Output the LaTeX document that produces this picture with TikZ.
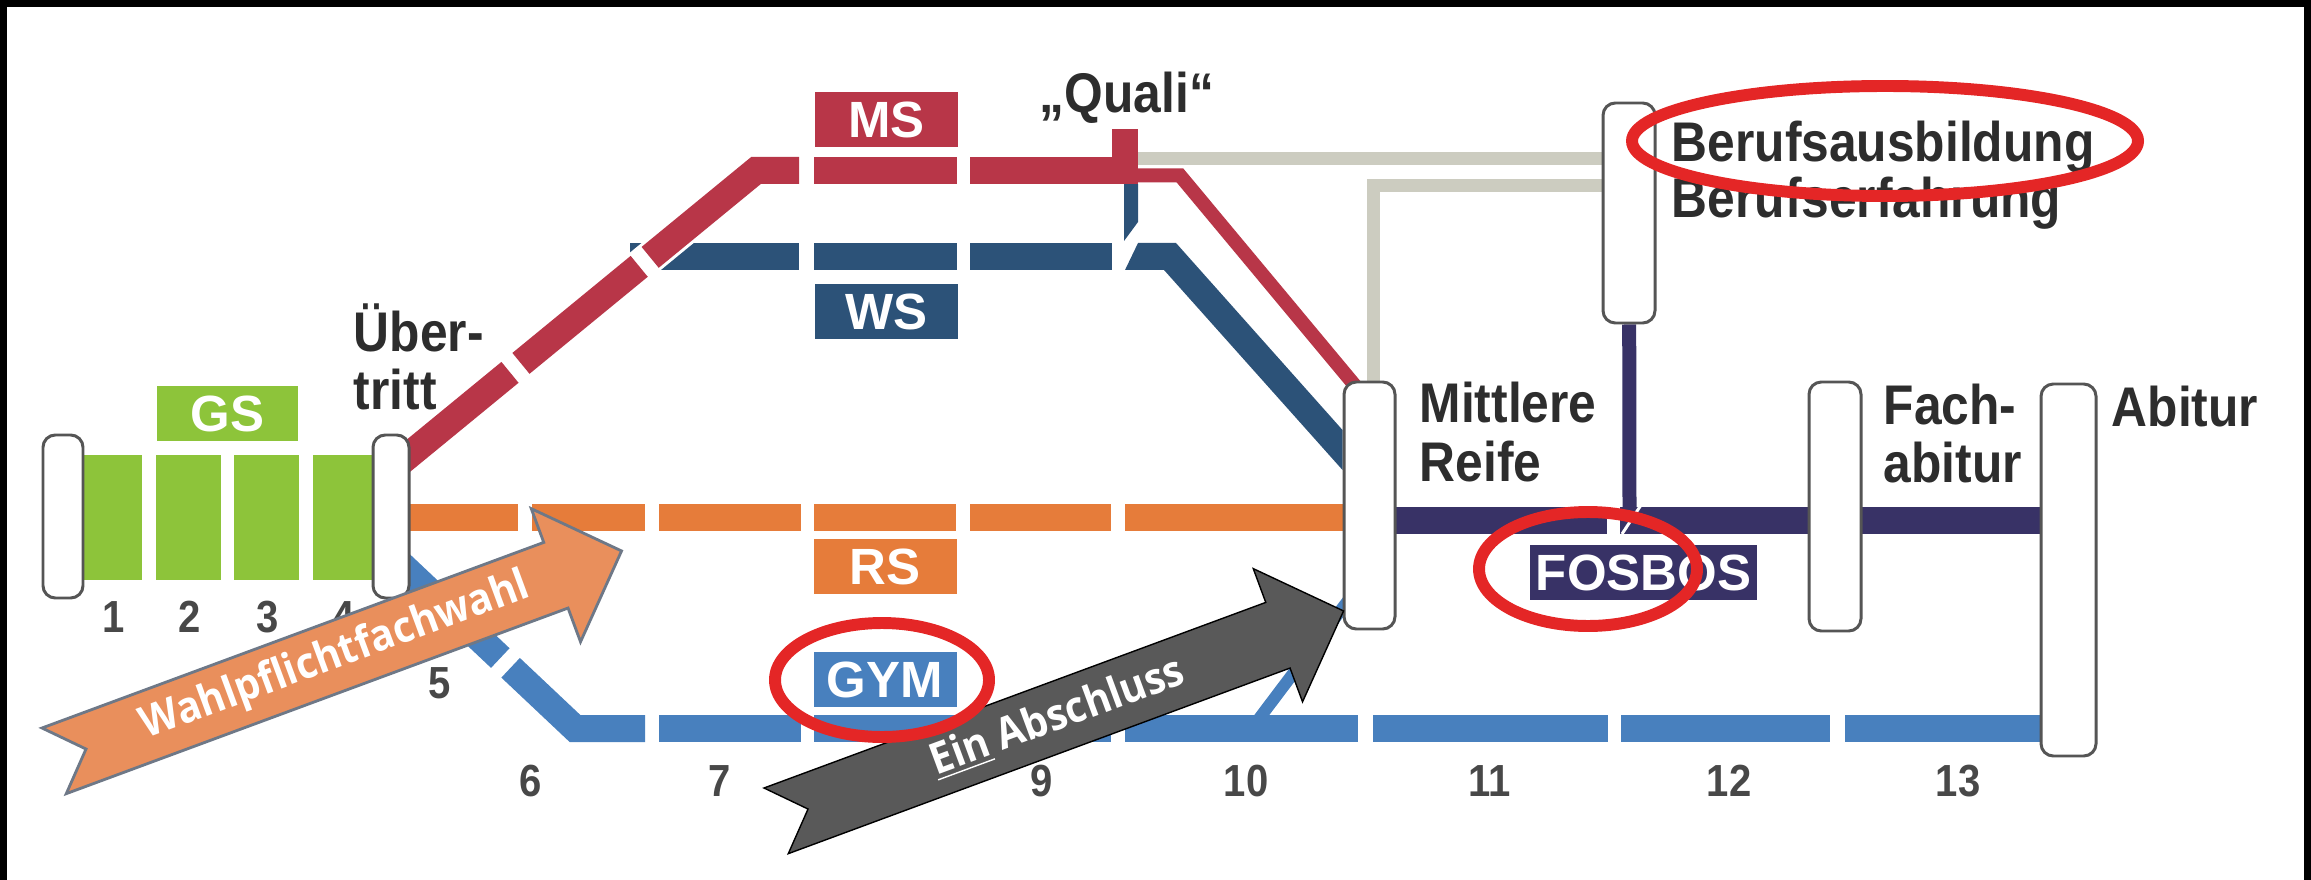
\documentclass[tikz,border=0pt]{standalone}
\usepackage{fontspec}
\setmainfont{Liberation Sans}
\newfontfamily\labelfont[FakeStretch=0.89]{Liberation Sans}
\newfontfamily\arrowfont[FakeStretch=0.92]{Open Sans}
\usetikzlibrary{calc,backgrounds}

\definecolor{msred}{RGB}{184,54,72}
\definecolor{wsblue}{RGB}{44,82,120}
\definecolor{rsorange}{RGB}{230,124,58}
\definecolor{gymblue}{RGB}{72,128,190}
\definecolor{fospurple}{RGB}{56,50,102}
\definecolor{pathgrey}{RGB}{204,204,192}
\definecolor{gsgreen}{RGB}{141,196,58}
\definecolor{bargrey}{RGB}{85,85,85}
\definecolor{textgrey}{RGB}{45,45,45}
\definecolor{numgrey}{RGB}{72,72,72}
\definecolor{arroworange}{RGB}{233,143,92}
\definecolor{arrowedge}{RGB}{110,120,135}
\definecolor{arrowgrey}{RGB}{89,89,89}
\definecolor{ringred}{RGB}{228,38,38}

\tikzset{
  bar/.style={draw=bargrey, fill=white, line width=0.85pt, rounded corners=3.5pt, inner sep=0pt},
  tag/.style={fill=#1, text=white, inner sep=0pt, minimum height=5.5mm, minimum width=14.3mm,
    font=\bfseries\fontsize{14.5}{14.5}\selectfont},
  stoptext/.style={anchor=base west, inner sep=0pt, text=textgrey,
    font=\labelfont\bfseries\fontsize{15.9}{16}\selectfont},
  yearnum/.style={inner sep=0pt, text=numgrey, font=\labelfont\bfseries\fontsize{12.8}{13}\selectfont},
  track/.style={draw=#1, line width=2.7mm, line cap=butt, line join=miter},
  thintrack/.style={draw=#1, line width=1.4mm, line cap=butt, line join=miter},
  ring/.style={draw=ringred, line width=3.4pt},
  arrowtext/.style={text=white, rotate=20.3, inner sep=0pt,
    font=\arrowfont\bfseries\fontsize{12.3}{13}\selectfont},
  pics/bigarrow/.style={code={
    \filldraw[#1] (0,0) -- (535,0) -- (535,-36) -- (605,35) -- (535,106)
      -- (535,70) -- (0,70) -- (34,35) -- cycle;
  }}
}

\begin{document}
\begin{tikzpicture}[x=0.1mm, y=-0.1mm]
	\useasboundingbox (0,0) rectangle (2311,880);
	\fill[black] (0,0) rectangle (2311,7);
	\fill[black] (0,0) rectangle (7,880);
	\fill[black] (2304,0) rectangle (2311,880);
	
	% stations
	\node[bar, minimum width=4mm, minimum height=16.3mm] (start) at (63,516.5) {};
	\node[bar, minimum width=3.6mm, minimum height=16.3mm] (ueb) at (391,516.5) {};
	\node[bar, minimum width=5.1mm, minimum height=24.7mm] (mr) at (1369.5,505.5) {};
	\node[bar, minimum width=5.2mm, minimum height=24.9mm] (fach) at (1835,506.5) {};
	\node[bar, minimum width=5.5mm, minimum height=37.2mm] (abi) at (2068.5,570) {};
	\node[bar, minimum width=5.2mm, minimum height=22mm] (beruf) at (1629,213) {};
	
	\begin{scope}[on background layer]
		\foreach \a/\b in {83/142,156/221,234/299,313/373}
			\fill[gsgreen] (\a,455) rectangle (\b,580);
		
		% RS
		\foreach \a/\b in {391/518,532/645,659/801,814/956,970/1111,1125/1369}
			\draw[track=rsorange] (\a,517) -- (\b,517);
		
		% WS
		\foreach \a/\b in {630/799,814/957,970/1112}
			\draw[track=wsblue] (\a,256.5) -- (\b,256.5);
		\fill[wsblue] (1124,184) -- (1138,184) -- (1138,222) -- (1124,241) -- cycle;
		\fill[wsblue] (1138,243) -- (1176,243) -- (mr.west |- 0,430) -- (mr.west |- 0,470) -- (1164,270) -- (1125,270) -- cycle;
		
		% MS
		\coordinate (r0) at (ueb |- 0,470);
		\coordinate (r1) at (756,170.5);
		\draw[white, line width=3.3mm] (r0) -- (r1);
		\draw[track=msred] (r0) -- ($(r0)!0.326!(r1)$);
		\draw[track=msred] ($(r0)!0.356!(r1)$) -- ($(r0)!0.68!(r1)$);
		\draw[track=msred] ($(r0)!0.71!(r1)$) -- (r1) -- (799,170.5);
		\foreach \a/\b in {814/957,970/1138}
			\draw[track=msred] (\a,170.5) -- (\b,170.5);
		\fill[msred] (1112,129) rectangle (1138,170);
		\draw[thintrack=msred] (1130,175.5) -- (1180,175.5) -- (1362,394);
		
		% Beruf
		\draw[thintrack=pathgrey, line width=1.3mm] (1138,159) -- (beruf |- 0,159);
		\draw[thintrack=pathgrey, line width=1.3mm] (1373.5,395) -- (1373.5,186) -- (beruf |- 0,186);
		
		% FOSBOS
		\draw[track=fospurple] (mr |- 0,520) -- (1607,520);
		\draw[track=fospurple] (1620,520) -- (abi |- 0,520);
		\draw[thintrack=fospurple] (beruf) -- (1629.5,515);
		\draw[white, line width=0.3mm] (1641,505) -- (1622,534);
		
		% GYM
		\coordinate (g0) at (ueb |- 0,555);
		\coordinate (g1) at (575,728.5);
		\draw[track=gymblue] (g0) -- ($(g0)!0.594!(g1)$);
		\draw[track=gymblue] ($(g0)!0.65!(g1)$) -- (g1) -- (645,728.5);
		\foreach \a/\b in {659/801,814/956,970/1111,1125/1358,1373/1608,1621/1830,1845/2068}
			\draw[track=gymblue] (\a,728.5) -- (\b,728.5);
		\draw[thintrack=gymblue, line width=1.2mm] (1252,728) -- (1350,598);
	\end{scope}
	
	\node[tag=gsgreen, minimum width=14.1mm] (gs) at (227.5,413.5) {GS};
	\node[tag=msred] (ms) at (886.5,119.5) {MS};
	\node[tag=wsblue] (ws) at (886.5,311.5) {WS};
	\node[tag=rsorange] (rs) at (885,566.5) {RS};
	\node[tag=gymblue] (gym) at (885,679.5) {GYM};
	\node[tag=fospurple, minimum width=22.7mm] (fos) at (1643.5,572.5) {FOSBOS};
	
	\node[stoptext] (ueb1) at (353,352) {Über-};
	\node[stoptext] (ueb2) at (353,410) {tritt};
	\node[stoptext, anchor=base] (quali) at (1127,113) {„Quali“};
	\node[stoptext] (mr1) at (1419,423) {Mittlere};
	\node[stoptext] (mr2) at (1419,481) {Reife};
	\node[stoptext] (fach1) at (1883,424) {Fach-};
	\node[stoptext] (fach2) at (1883,482) {abitur};
	\node[stoptext] (abi1) at (2111,426) {Abitur};
	\node[stoptext] (beruf1) at (1671,162) {Berufsausbildung};
	\node[stoptext] (beruf2) at (1671,218) {Berufserfahrung};
	
	\foreach \n/\x in {1/114,2/190,3/268,4/344}
		\node[yearnum] (y\n) at (\x,617) {\n};
	\node[yearnum] (y5) at (440,683) {5};
	\foreach \n/\x in {6/531,7/720,9/1042,10/1246,11/1490,12/1729,13/1958}
		\node[yearnum] (y\n) at (\x,781) {\n};
	
	\pic[rotate=20.3] at (42,728) {bigarrow={fill=arroworange, draw=arrowedge, line width=0.8pt}};
	\node[arrowtext] (wpf) at (335.5,656.7) {Wahlpflichtfachwahl};
	\pic[rotate=20.3] at (764,788) {bigarrow={fill=arrowgrey}};
	\node[arrowtext] (abschl) at (1057.5,716.7) {\underline{Ein} Abschluss};
	
	\draw[ring] (1885,141) ellipse [x radius=25.3mm, y radius=5.5mm];
	\draw[ring] (1588,569) ellipse [x radius=10.9mm, y radius=5.7mm];
	\draw[ring] (882,680) ellipse [x radius=10.7mm, y radius=5.7mm];
\end{tikzpicture}
\end{document}
